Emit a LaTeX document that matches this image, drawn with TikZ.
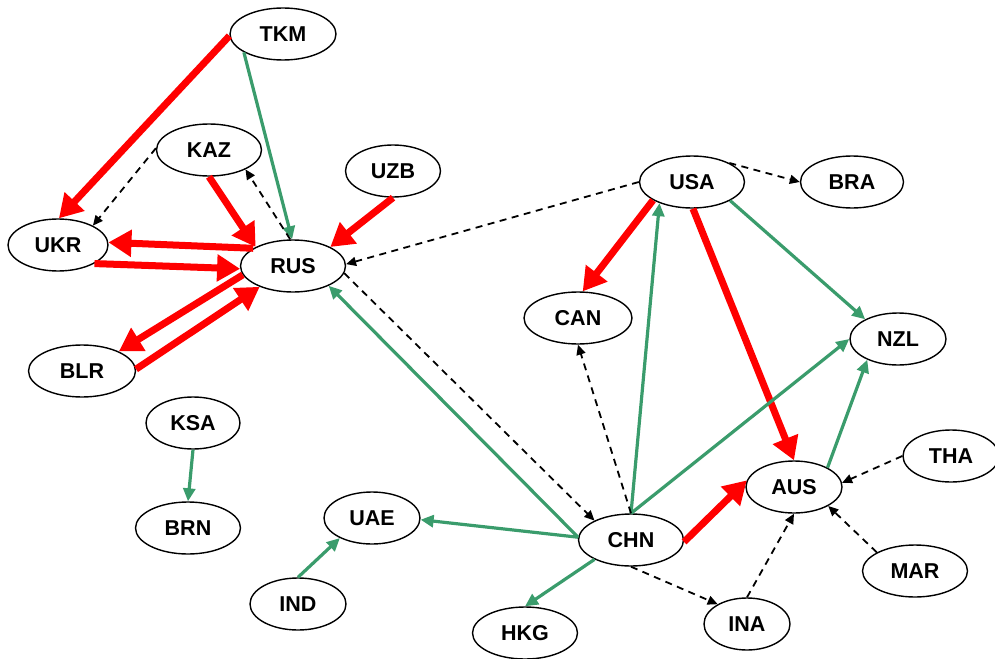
\documentclass[tikz,border=0pt]{standalone}
\usepackage{fontspec}
\setmainfont{Liberation Sans}
\usetikzlibrary{shapes.geometric,arrows.meta}
\definecolor{redE}{RGB}{255,0,0}
\definecolor{greenE}{RGB}{58,156,108}
\tikzset{
  country/.style={draw=black, line width=1.4pt, ellipse, inner sep=0pt,
    minimum height=52pt, minimum width=#1, fill=white,
    font=\fontsize{21.5}{24}\selectfont\bfseries},
  country/.default=105pt,
  strong/.style={draw=redE, line width=7pt, -{Triangle[length=23pt,width=26pt]}},
  medium/.style={draw=greenE, line width=3.2pt, -{Triangle[length=13pt,width=12pt]}},
  weak/.style={draw=black, line width=1.8pt, dash pattern=on 7pt off 5.5pt, -{Triangle[length=10pt,width=9pt]}}
}
\begin{document}
\begin{tikzpicture}[x=1pt,y=-1pt]
\useasboundingbox (0,0) rectangle (995,658);
\path
 (283,34) node[country=106pt] (TKM) {TKM}
 (209,150) node[country=105pt] (KAZ) {KAZ}
 (393,171) node[country=95pt] (UZB) {UZB}
 (58,245) node[country=100pt] (UKR) {UKR}
 (293,266) node[country=105pt] (RUS) {RUS}
 (82,371) node[country=107pt] (BLR) {BLR}
 (193,423) node[country=94pt] (KSA) {KSA}
 (188,528) node[country=105pt] (BRN) {BRN}
 (692,182) node[country=105pt] (USA) {USA}
 (852,182) node[country=103pt] (BRA) {BRA}
 (578,318) node[country=108pt] (CAN) {CAN}
 (898,339) node[country=96pt] (NZL) {NZL}
 (951,456) node[country=96pt] (THA) {THA}
 (794,487) node[country=96pt] (AUS) {AUS}
 (372,518) node[country=96pt] (UAE) {UAE}
 (631,540) node[country=105pt] (CHN) {CHN}
 (525,633) node[country=105pt] (HKG) {HKG}
 (298,604) node[country=96pt] (IND) {IND}
 (747,624) node[country=86pt] (INA) {INA}
 (915,571) node[country=105pt] (MAR) {MAR};
% strong (red)
\draw[strong] (TKM.182) -- (UKR.88);
\draw[strong] (KAZ.south) -- (RUS.153);
\draw[strong] (UZB.south) -- (RUS.27);
\draw[strong] (RUS.156) -- (UKR.3);
\draw[strong] (UKR.333) -- (RUS.183);
\draw[strong] (RUS.190) -- (BLR.28);
\draw[strong] (BLR.2) -- (RUS.212);
\draw[strong] (USA.205) -- (CAN.80);
\draw[strong] (USA.272) -- (AUS.north);
\draw[strong] (CHN.-2) -- (AUS.172);
% medium (green)
\draw[medium] (TKM.205) -- (RUS.92);
\draw[medium] (CHN.177) -- (RUS.331);
\draw[medium] (CHN.north) -- (USA.213);
\draw[medium] (CHN.north) -- (NZL.180);
\draw[medium] (USA.334) -- (NZL.149);
\draw[medium] (AUS.30) -- (NZL.214);
\draw[medium] (CHN.177) -- (UAE.358);
\draw[medium] (CHN.208) -- (HKG.north);
\draw[medium] (IND.north) -- (UAE.212);
\draw[medium] (KSA.south) -- (BRN.north);
% weak (dashed)
\draw[weak] (KAZ.178) -- (UKR.29);
\draw[weak] (RUS.96) -- (KAZ.332);
\draw[weak] (USA.west) -- (RUS.2);
\draw[weak] (RUS.352) -- (CHN.152);
\draw[weak] (USA.27) -- (BRA.west);
\draw[weak] (CHN.north) -- (CAN.south);
\draw[weak] (CHN.south) -- (INA.146);
\draw[weak] (INA.north) -- (AUS.south);
\draw[weak] (THA.west) -- (AUS.5);
\draw[weak] (MAR.154) -- (AUS.331);
\end{tikzpicture}
\end{document}
